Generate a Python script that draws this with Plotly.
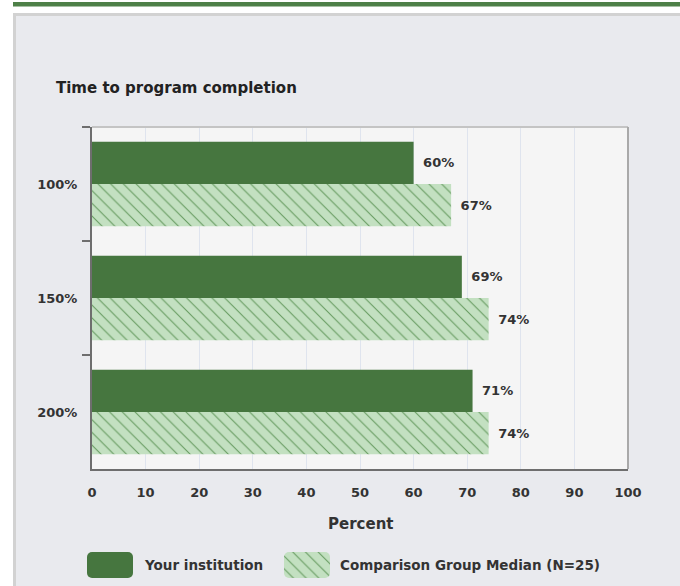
import plotly.graph_objects as go

# ── data ─────────────────────────────────────────
categories = ['100%', '150%', '200%']
institution = [60, 69, 71]
comparison = [67, 74, 74]
x_ticks = [0, 10, 20, 30, 40, 50, 60, 70, 80, 90, 100]
series_names = ['Your institution', 'Comparison Group Median (N=25)']
chart_title = 'Time to program completion'
x_title = 'Percent'

# ── style ────────────────────────────────────────
W, H = 680, 586
DARK = '#46763f'
LIGHT = '#c3e0c1'
HATCH = 'rgba(70,130,62,0.75)'
TEXT = '#333333'
FONT = 'DejaVu Sans, Verdana, sans-serif'


def px(x):
    return x / W


def py(y):
    return 1 - y / H


hatch = dict(shape='\\', size=9, solidity=0.12, fgcolor=HATCH, bgcolor=LIGHT, fillmode='replace')
label_font = dict(size=13, color=TEXT, family=FONT, weight='bold')

fig = go.Figure()
fig.add_trace(go.Bar(
    y=categories, x=institution, orientation='h', name=series_names[0],
    marker=dict(color=DARK, line=dict(width=0)),
    text=[f'\u2002{v}%' for v in institution], textposition='outside', cliponaxis=False,
    textfont=label_font, showlegend=False,
))
fig.add_trace(go.Bar(
    y=categories, x=comparison, orientation='h', name=series_names[1],
    marker=dict(color=LIGHT, pattern=hatch, line=dict(width=0)),
    text=[f'\u2002{v}%' for v in comparison], textposition='outside', cliponaxis=False,
    textfont=label_font, showlegend=False,
))


# legend swatches on a helper axis: two rounded halves plus a square middle piece
def add_swatch(left, marker):
    size, r = 46, 5
    pieces = [(left + size / 2, -size / 2, r), (left + size / 2, size / 2, r),
              (left + r, size - 2 * r, 0)]
    for base, length, radius in pieces:
        fig.add_trace(go.Bar(
            y=[0.5], x=[length], base=[base], orientation='h', width=1, offset=-0.5,
            xaxis='x2', yaxis='y2',
            marker=dict(cornerradius=radius, line=dict(width=0), **marker),
            showlegend=False, hoverinfo='skip',
        ))


add_swatch(87, dict(color=DARK))
add_swatch(284, dict(color=LIGHT, pattern=hatch))

shapes = [
    # white page outside the panel
    dict(type='rect', xref='paper', yref='paper', x0=0, x1=1, y0=py(13), y1=1,
         fillcolor='white', line_width=0, layer='below'),
    dict(type='rect', xref='paper', yref='paper', x0=0, x1=px(13), y0=0, y1=1,
         fillcolor='white', line_width=0, layer='below'),
    # green header rule
    dict(type='rect', xref='paper', yref='paper', x0=px(13), x1=1, y0=py(6.5), y1=py(2),
         fillcolor='#4e8048', line_width=0, layer='below'),
    # panel border
    dict(type='line', xref='paper', yref='paper', x0=px(13), x1=1, y0=py(14.5), y1=py(14.5),
         line=dict(color='#d2d2d2', width=3), layer='below'),
    dict(type='line', xref='paper', yref='paper', x0=px(14.5), x1=px(14.5), y0=0, y1=py(13),
         line=dict(color='#d2d2d2', width=3), layer='below'),
    # plot area background
    dict(type='rect', xref='x domain', yref='y domain', x0=0, x1=1, y0=0, y1=1,
         fillcolor='#f5f5f5', line_width=0, layer='below'),
    # top / right border of plot area
    dict(type='line', xref='x domain', yref='y domain', x0=0, x1=1, y0=1, y1=1,
         line=dict(color='#c4c4c4', width=2)),
    dict(type='line', xref='x domain', yref='y domain', x0=1, x1=1, y0=0, y1=1,
         line=dict(color='#a9a9a9', width=2)),
]

bold = dict(family=FONT, size=13, color=TEXT, weight='bold')
legend_font = dict(family=FONT, size=13.5, color=TEXT, weight='bold')
annotations = [
    dict(text=chart_title, xref='paper', yref='paper', x=px(54), y=py(88),
         xanchor='left', yanchor='middle', showarrow=False,
         font=dict(family=FONT, size=15, color='#222222', weight='bold')),
    dict(text=x_title, xref='paper', yref='paper', x=px(360), y=py(524),
         xanchor='center', yanchor='middle', showarrow=False,
         font=dict(family=FONT, size=15, color=TEXT, weight='bold')),
    dict(text=series_names[0], xref='paper', yref='paper', x=px(142), y=py(565),
         xanchor='left', yanchor='middle', showarrow=False, font=legend_font),
    dict(text=series_names[1], xref='paper', yref='paper', x=px(338), y=py(565),
         xanchor='left', yanchor='middle', showarrow=False, font=legend_font),
]

fig.update_layout(
    width=W, height=H,
    margin=dict(l=0, r=0, t=0, b=0, autoexpand=False),
    paper_bgcolor='#e9eaee',
    plot_bgcolor='rgba(0,0,0,0)',
    barmode='group', bargap=0.26, bargroupgap=0,
    font=dict(family=FONT, color=TEXT),
    showlegend=False,
    shapes=shapes,
    annotations=annotations,
    xaxis=dict(
        domain=[px(92), px(628)], range=[0, 100], tickvals=x_ticks,
        showgrid=True, gridcolor='#dfe4ee', gridwidth=1,
        showline=True, linecolor='#6e6e6e', linewidth=2,
        ticks='', ticklabelstandoff=10, tickfont=bold, zeroline=False,
        fixedrange=True,
    ),
    yaxis=dict(
        domain=[py(469), py(127)], categoryorder='array', categoryarray=categories,
        autorange='reversed', tickson='boundaries', ticks='outside', ticklen=8,
        tickcolor='#6e6e6e', tickwidth=2, showline=True, linecolor='#6e6e6e', linewidth=2,
        showgrid=False, ticklabelstandoff=10, tickfont=bold, fixedrange=True,
    ),
    xaxis2=dict(domain=[0, 1], range=[0, W], anchor='y2', visible=False, fixedrange=True),
    yaxis2=dict(domain=[py(578), py(552)], range=[0, 1], anchor='x2', visible=False,
                fixedrange=True),
)

# page body has a default 8px margin; drop it so the figure sits at the window origin
fig.write_html('out.html', config={'displayModeBar': False},
               post_script="document.body.style.margin='0';")
